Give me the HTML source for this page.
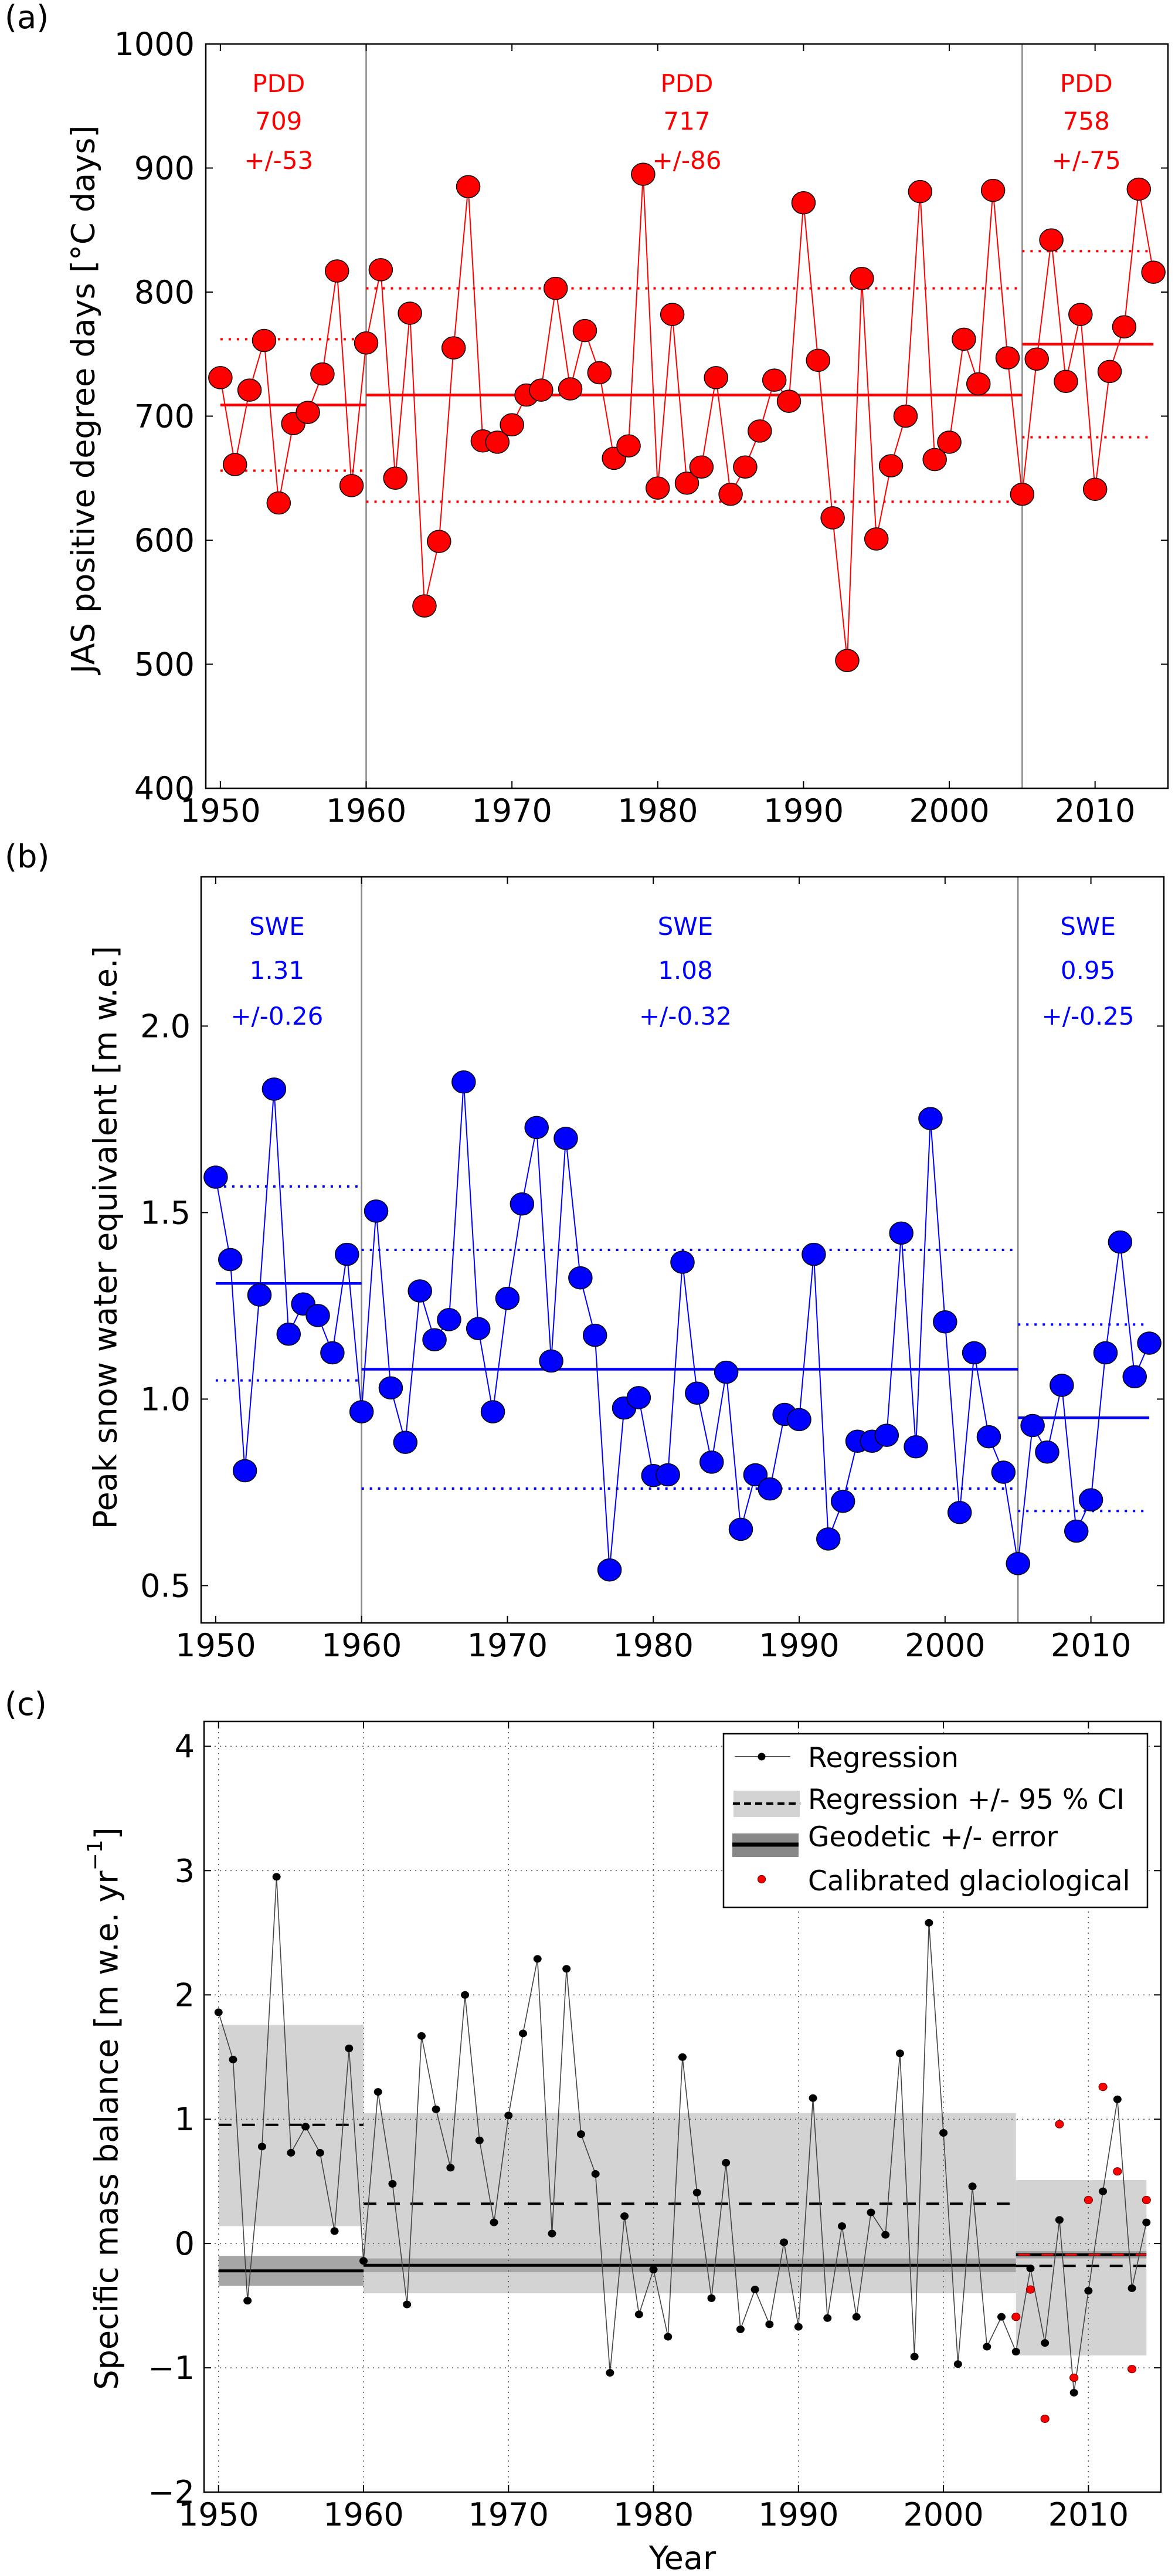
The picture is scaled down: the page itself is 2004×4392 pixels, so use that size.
<!DOCTYPE html>
<html><head><meta charset="utf-8">
<style>
html,body{margin:0;padding:0;background:#fff;}
svg{display:block;font-family:"DejaVu Sans","Liberation Sans",sans-serif;}
</style></head>
<body>
<svg id="fig" xmlns="http://www.w3.org/2000/svg" width="2004" height="4392" viewBox="0 0 2004 4392"></svg>
<script>
// ---------- DATA ----------
const years = [];
for (let y = 1950; y <= 2014; y++) years.push(y);

const pddValues = [731,661,721,761,630,694,703,734,817,644,759,818,650,783,547,599,755,885,680,679,693,717,721,803,722,769,735,666,676,895,642,782,646,659,731,637,659,688,729,712,872,745,618,503,811,601,660,700,881,665,679,762,726,882,747,637,746,842,728,782,641,736,772,883,816];
const sweValues = [1.595,1.374,0.808,1.279,1.831,1.174,1.255,1.224,1.124,1.388,0.966,1.504,1.030,0.884,1.290,1.159,1.213,1.850,1.189,0.966,1.270,1.523,1.728,1.102,1.699,1.325,1.171,0.542,0.976,1.004,0.795,0.797,1.367,1.016,0.831,1.072,0.651,0.797,0.759,0.959,0.945,1.388,0.625,0.726,0.887,0.887,0.903,1.445,0.872,1.752,1.207,0.696,1.124,0.899,0.804,0.559,0.929,0.858,1.037,0.646,0.730,1.124,1.421,1.060,1.150];
const smbValues = [1.86,1.48,-0.46,0.78,2.95,0.73,0.94,0.73,0.10,1.57,-0.14,1.22,0.48,-0.49,1.67,1.08,0.61,2.00,0.83,0.17,1.03,1.69,2.29,0.08,2.21,0.88,0.56,-1.04,0.22,-0.57,-0.21,-0.75,1.50,0.41,-0.44,0.65,-0.69,-0.37,-0.65,0.01,-0.67,1.17,-0.60,0.14,-0.59,0.25,0.07,1.53,-0.91,2.58,0.89,-0.97,0.46,-0.83,-0.59,-0.87,-0.20,-0.80,0.19,-1.20,-0.38,0.42,1.16,-0.36,0.17];
const glacYears = [2005,2006,2007,2008,2009,2010,2011,2012,2013,2014];
const glacValues = [-0.59,-0.37,-1.41,0.96,-1.08,0.35,1.26,0.58,-1.01,0.35];

const periodStart = [1950,1960,2005];
const periodEnd = [1960,2005,2014];
const pddMeans = [709,717,758];
const pddStd = [53,86,75];
const sweMeans = [1.31,1.08,0.95];
const sweStd = [0.26,0.32,0.25];
const regMeans = [0.955,0.32,-0.18];
const ciLow = [0.14,-0.40,-0.90];
const ciHigh = [1.76,1.05,0.51];
const geoMeans = [-0.22,-0.175,-0.09];
const geoErr = [0.12,0.055,0.03];

const xTicks = [1950,1960,1970,1980,1990,2000,2010];
const xTickLabels = ["1950","1960","1970","1980","1990","2000","2010"];
const pddTicks = [400,500,600,700,800,900,1000];
const pddTickLabels = ["400","500","600","700","800","900","1000"];
const sweTicks = [0.5,1.0,1.5,2.0];
const sweTickLabels = ["0.5","1.0","1.5","2.0"];
const smbTicks = [-2,-1,0,1,2,3,4];
const smbTickLabels = ["\u22122","\u22121","0","1","2","3","4"];
const breakYears = [1960,2005];

// ---------- HELPERS ----------
const NS = "http://www.w3.org/2000/svg";
const svg = document.getElementById('fig');
function el(tag, attrs, parent) {
  const e = document.createElementNS(NS, tag);
  for (const k in attrs) e.setAttribute(k, attrs[k]);
  (parent || svg).appendChild(e);
  return e;
}
function axes(L, R, T, B, ymin, ymax) {
  const xs = v => L + (v - 1949) / (2015 - 1949) * (R - L);
  const ys = v => B - (v - ymin) / (ymax - ymin) * (B - T);
  return {L, R, T, B, xs, ys};
}
function frame(ax, yTicks, yLabels, labelRight, name) {
  const g = el('g', {});
  
  
  xTicks.forEach((t, i) => {
    const x = ax.xs(t);
    el('line', {x1:x, x2:x, y1:ax.B, y2:ax.B-12, stroke:'#000', 'stroke-width':2}, g);
    el('line', {x1:x, x2:x, y1:ax.T, y2:ax.T+12, stroke:'#000', 'stroke-width':2}, g);
    const tx = el('text', {x:x, y:ax.B+57, 'font-size':54, 'text-anchor':'middle', fill:'#000'}, g);
    tx.textContent = xTickLabels[i];
    
    
  });
  yTicks.forEach((t, i) => {
    const y = ax.ys(t);
    el('line', {x1:ax.L, x2:ax.L+12, y1:y, y2:y, stroke:'#000', 'stroke-width':2}, g);
    el('line', {x1:ax.R, x2:ax.R-12, y1:y, y2:y, stroke:'#000', 'stroke-width':2}, g);
    const tx = el('text', {x:labelRight, y:y+19, 'font-size':54, 'text-anchor':'end', fill:'#000'}, g);
    tx.textContent = yLabels[i];
    
    
  });
  el('rect', {x:ax.L, y:ax.T, width:ax.R-ax.L, height:ax.B-ax.T, fill:'none', stroke:'#000', 'stroke-width':2.5}, g);
}
function panelLabel(txt, y, name) {
  const t = el('text', {x:8, y:y, 'font-size':54, fill:'#000'});
  t.textContent = txt;
  
  
}
function yTitle(cx, cy, name) {
  const t = el('text', {x:0, y:0, 'font-size':54, 'text-anchor':'middle', 'dominant-baseline':'central', fill:'#000',
    transform:`translate(${cx},${cy}) rotate(-90)`});
  
  
  return t;
}
function statPanel(ax, values, means, stds, color, label, fmt, textYs, textXs, name) {
  // separators
  breakYears.forEach(b => {
    const l = el('line', {x1:ax.xs(b), x2:ax.xs(b), y1:ax.T, y2:ax.B, stroke:'#888', 'stroke-width':2.5});
    
    
  });
  // mean & std lines
  means.forEach((m, i) => {
    const x1 = ax.xs(periodStart[i]), x2 = ax.xs(periodEnd[i]);
    const ml = el('line', {x1:x1, x2:x2, y1:ax.ys(m), y2:ax.ys(m), stroke:color, 'stroke-width':4.5});
    
    
    [m + stds[i], m - stds[i]].forEach(v => {
      const dl = el('line', {x1:x1, x2:x2, y1:ax.ys(v), y2:ax.ys(v), stroke:color, 'stroke-width':4, 'stroke-dasharray':'4,10'});
      
      
    });
    const tx = textXs[i];
    [label, fmt(m), '+/-' + fmt(stds[i])].forEach((s, k) => {
      const t = el('text', {x:ax.xs(tx), y:textYs[k], 'font-size':42, 'text-anchor':'middle', fill:color});
      t.textContent = s;
      
      
    });
  });
  // series
  const pts = values.map((v, i) => ax.xs(years[i]) + ',' + ax.ys(v)).join(' ');
  const pl = el('polyline', {points:pts, fill:'none', stroke:color, 'stroke-width':2});
  
  
  values.forEach((v, i) => {
    const c = el('ellipse', {cx:ax.xs(years[i]), cy:ax.ys(v), rx:20, ry:19, fill:color, stroke:'#000', 'stroke-width':1.5});
    
    
  });
}

// ---------- PANEL A ----------
const A = axes(351, 1992, 75, 1344, 400, 1000);
panelLabel('(a)', 48, 'panel-a-label');
statPanel(A, pddValues, pddMeans, pddStd, '#ff0000', 'PDD', v => String(Math.round(v)), [157,221,288], [1954,1982,2009.4], 'pdd');
frame(A, pddTicks, pddTickLabels, 332, 'pdd');
yTitle(142, 681, 'pdd-y-axis-title').textContent = 'JAS positive degree days [\u00B0C days]';

// ---------- PANEL B ----------
const B = axes(343, 1985, 1495, 2767, 0.4, 2.4);
panelLabel('(b)', 1479, 'panel-b-label');
statPanel(B, sweValues, sweMeans, sweStd, '#0000ff', 'SWE', v => v.toFixed(2), [1594,1669,1747], [1954.2,1982.2,2009.8], 'swe');
frame(B, sweTicks, sweTickLabels, 325, 'swe');
yTitle(180, 2110, 'swe-y-axis-title').textContent = 'Peak snow water equivalent [m w.e.]';

// ---------- PANEL C ----------
const C = axes(348, 1980, 2935, 4249, -2, 4.2);
panelLabel('(c)', 2924, 'panel-c-label');
// CI bands
ciLow.forEach((lo, i) => {
  const r = el('rect', {x:C.xs(periodStart[i]), y:C.ys(ciHigh[i]), width:C.xs(periodEnd[i])-C.xs(periodStart[i]), height:C.ys(lo)-C.ys(ciHigh[i]), fill:'#d3d3d3'});
  
  
});
// geodetic bands
geoMeans.forEach((m, i) => {
  const r = el('rect', {x:C.xs(periodStart[i]), y:C.ys(m+geoErr[i]), width:C.xs(periodEnd[i])-C.xs(periodStart[i]), height:C.ys(m-geoErr[i])-C.ys(m+geoErr[i]), fill:'#a6a6a6'});
  
  
});
// grid
xTicks.forEach(t => {
  const l = el('line', {x1:C.xs(t), x2:C.xs(t), y1:C.T, y2:C.B, stroke:'#555', 'stroke-width':1.5, 'stroke-dasharray':'2,7'});
  
  
});
smbTicks.forEach(t => {
  const l = el('line', {x1:C.L, x2:C.R, y1:C.ys(t), y2:C.ys(t), stroke:'#555', 'stroke-width':1.5, 'stroke-dasharray':'2,7'});
  
  
});
// geodetic lines
geoMeans.forEach((m, i) => {
  const l = el('line', {x1:C.xs(periodStart[i]), x2:C.xs(periodEnd[i]), y1:C.ys(m), y2:C.ys(m), stroke:'#000', 'stroke-width':5});
  
  
  if (i === 2) {
    const d = el('line', {x1:C.xs(periodStart[i])+4, x2:C.xs(periodEnd[i]), y1:C.ys(m), y2:C.ys(m), stroke:'#ff0000', 'stroke-width':3, 'stroke-dasharray':'20,20'});
    
    
  }
});
// regression dashed means
regMeans.forEach((m, i) => {
  const l = el('line', {x1:C.xs(periodStart[i]), x2:C.xs(periodEnd[i]), y1:C.ys(m), y2:C.ys(m), stroke:'#000', 'stroke-width':4, 'stroke-dasharray':'22,18'});
  
  
});
// regression series
{
  const pts = smbValues.map((v, i) => C.xs(years[i]) + ',' + C.ys(v)).join(' ');
  const pl = el('polyline', {points:pts, fill:'none', stroke:'#444', 'stroke-width':1.6});
  
  
  smbValues.forEach((v, i) => {
    const c = el('ellipse', {cx:C.xs(years[i]), cy:C.ys(v), rx:7, ry:6.5, fill:'#000'});
    
    
  });
  glacValues.forEach((v, i) => {
    const c = el('ellipse', {cx:C.xs(glacYears[i]), cy:C.ys(v), rx:7, ry:6.5, fill:'#ff0000', stroke:'#700', 'stroke-width':1.2});
    
    
  });
}
frame(C, smbTicks, smbTickLabels, 332, 'smb');
{
  const t = yTitle(182, 3595, 'smb-y-axis-title');
  t.textContent = 'Specific  mass balance [m w.e. yr';
  const sp = el('tspan', {'font-size':36, dy:-20}, t);
  sp.textContent = '\u22121';
  const sp2 = el('tspan', {dy:20}, t);
  sp2.textContent = ']';
  const xt = el('text', {x:(C.L+C.R)/2, y:4380, 'font-size':54, 'text-anchor':'middle', fill:'#000'});
  xt.textContent = 'Year';
  
  
}
// legend
{
  const g = el('g', {});
  
  
  el('rect', {x:1234, y:2956, width:723, height:296, fill:'#fff', stroke:'#000', 'stroke-width':2.5}, g);
  el('line', {x1:1253, x2:1348, y1:2995, y2:2995, stroke:'#222', 'stroke-width':1.6}, g);
  el('circle', {cx:1299, cy:2995, r:6.5, fill:'#000'}, g);
  el('rect', {x:1251, y:3053, width:113, height:45, fill:'#d3d3d3'}, g);
  el('line', {x1:1250, x2:1365, y1:3075, y2:3075, stroke:'#000', 'stroke-width':4, 'stroke-dasharray':'12,7'}, g);
  el('rect', {x:1249, y:3126, width:113, height:40, fill:'#888'}, g);
  el('line', {x1:1249, x2:1362, y1:3145, y2:3145, stroke:'#000', 'stroke-width':7}, g);
  el('circle', {cx:1299, cy:3204, r:6.5, fill:'#ff0000', stroke:'#700', 'stroke-width':1.2}, g);
  const labels = ['Regression', 'Regression +/- 95 % CI', 'Geodetic +/- error', 'Calibrated glaciological'];
  const bl = [3013, 3084, 3148, 3223];
  labels.forEach((s, i) => {
    const t = el('text', {x:1378, y:bl[i], 'font-size':47, fill:'#000'}, g);
    t.textContent = s;
    
    
  });
}
</script>
</body></html>
